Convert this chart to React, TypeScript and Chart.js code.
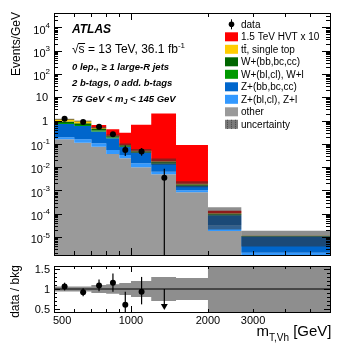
import React, { useEffect, useRef } from 'react';
import { Chart, registerables } from 'chart.js';
Chart.register(...registerables);

const FONT = '"Liberation Sans", Arial, Helvetica, sans-serif';

// ---- data (Events/GeV) ----
const binEdges = [500, 600, 700, 800, 900, 1000, 1200, 1500, 2000, 2700, 6000];
const otherBkg = [0.156, 0.112, 0.075, 0.037, 0.024, 0.0098, 0.005, 8.3e-4, 1.8e-5, 1e-7];
const zLight = [0.034, 0.044, 0.03, 0.017, 0.009, 0.0048, 0.0013, 2.0e-4, 1.4e-5, 2e-6];
const zHeavy = [0.52, 0.42, 0.23, 0.12, 0.04, 0.028, 0.008, 5.7e-4, 5.4e-5, 8.5e-6];
const wLight = [0.08, 0.07, 0.04, 0.015, 0.006, 0.003, 0.0012, 1.0e-4, 6e-6, 3e-7];
const wHeavy = [0.12, 0.12, 0.06, 0.02, 0.007, 0.003, 0.0015, 1.2e-4, 8e-6, 3e-7];
const topBkg = [0.22, 0.17, 0.06, 0.015, 0.004, 0.002, 0.001, 1.0e-4, 5e-6, 1e-7];
const hvtSignal = [0, 0, 0.145, 0.2, 0.21, 0.6, 1.98, 0.087, 3e-5, 0];
const bkgRelUnc = [0.06, 0.06, 0.1, 0.12, 0.15, 0.2, 0.3, 0.28, 0.8, 0.65];

const dataX = [550, 650, 750, 850, 950, 1100, 1350];
const dataY = [1.2, 0.86, 0.54, 0.26, 0.054, 0.047, 0.0035];
const dataErrUp = [0.11, 0.093, 0.073, 0.051, 0.03, 0.019, 0.005];
const dataErrDown = [0.11, 0.093, 0.073, 0.051, 0.024, 0.016, 0.0035];

const xTickValues = [600, 700, 800, 900, 1000, 2000, 3000, 4000, 5000];
const xTickLabels = ['500', '1000', '2000', '3000'];
const yDecades = [-5, -4, -3, -2, -1, 0, 1, 2, 3, 4];
const ratioTickLabels = ['0.5', '1', '1.5'];

const legendLabels = ['data', '1.5 TeV HVT x 10', 'tt, single top', 'W+(bb,bc,cc)', 'W+(bl,cl), W+l', 'Z+(bb,bc,cc)', 'Z+(bl,cl), Z+l', 'other', 'uncertainty'];

const COLORS = {
  other: '#9a9a9a', zl: '#3399ff', zh: '#0066cc', wl: '#009900', wh: '#006600', top: '#ffcc00', sig: '#ff0000',
};
const UNC_COLOR = 'rgba(50,50,50,0.55)';

const X_MIN = 500, X_MAX = 6000;
const Y_MIN = 1.7e-6, Y_MAX = 4.1e4;
const R_MIN = 0.42, R_MAX = 1.58;

function stepPoints(vals: number[]) {
  const pts = vals.map((v, i) => ({ x: binEdges[i], y: v }));
  pts.push({ x: binEdges[binEdges.length - 1], y: vals[vals.length - 1] });
  return pts;
}

function cumulative() {
  const comps = [otherBkg, zLight, zHeavy, wLight, wHeavy, topBkg, hvtSignal];
  const cum: number[][] = [];
  let run = new Array(binEdges.length - 1).fill(0);
  comps.forEach((c) => {
    run = run.map((r, i) => r + c[i]);
    cum.push(run.slice());
  });
  return cum;
}

function binOf(x: number) {
  for (let i = 0; i < binEdges.length - 1; i++) if (x >= binEdges[i] && x < binEdges[i + 1]) return i;
  return -1;
}

function drawParts(ctx: CanvasRenderingContext2D, x: number, y: number, parts: { t: string; font: string; dy?: number }[]) {
  let cx = x;
  const pos: number[] = [];
  for (const p of parts) {
    ctx.font = p.font;
    pos.push(cx);
    ctx.fillText(p.t, cx, y + (p.dy || 0));
    cx += ctx.measureText(p.t).width;
  }
  pos.push(cx);
  return pos;
}

function drawXTicks(ctx: CanvasRenderingContext2D, x: any, T: number, B: number, maj: number, min: number) {
  for (const v of xTickValues) {
    const px = Math.round(x.getPixelForValue(v)) + 0.5;
    const len = v === 1000 ? maj : min;
    ctx.moveTo(px, B); ctx.lineTo(px, B - len);
    ctx.moveTo(px, T); ctx.lineTo(px, T + len);
  }
}

const mainDecor = {
  id: 'mainDecor',
  afterDraw(chart: any) {
    const { ctx, chartArea: a } = chart;
    const x = chart.scales.x, y = chart.scales.y;
    const L = Math.round(a.left), R = Math.round(a.right), T = Math.round(a.top), B = Math.round(a.bottom);
    ctx.save();
    ctx.strokeStyle = '#000';
    ctx.lineWidth = 1;
    ctx.beginPath();
    for (let d = -7; d <= 5; d++) {
      for (let m = 1; m <= 9; m++) {
        const v = m * Math.pow(10, d);
        if (v < Y_MIN || v > Y_MAX) continue;
        const py = Math.round(y.getPixelForValue(v)) + 0.5;
        const len = m === 1 ? 8 : 4;
        ctx.moveTo(L, py); ctx.lineTo(L + len, py);
        ctx.moveTo(R, py); ctx.lineTo(R - len, py);
      }
    }
    drawXTicks(ctx, x, T, B, 7, 4);
    ctx.stroke();
    ctx.strokeRect(L + 0.5, T + 0.5, R - L, B - T);

    ctx.fillStyle = '#000';
    ctx.textBaseline = 'alphabetic';
    // y tick labels
    const f11 = `11px ${FONT}`, f8 = `8px ${FONT}`;
    for (const d of yDecades) {
      const py = y.getPixelForValue(Math.pow(10, d));
      ctx.textAlign = 'right';
      if (d === 0 || d === 1) {
        ctx.font = f11;
        ctx.fillText(d === 0 ? '1' : '10', L - 6, py + 4);
      } else {
        const e = String(d);
        ctx.font = f8;
        const ew = ctx.measureText(e).width;
        ctx.fillText(e, L - 4, py + 0.5);
        ctx.font = f11;
        ctx.fillText('10', L - 4 - ew, py + 6.3);
      }
    }
    // y title
    ctx.save();
    ctx.translate(20, 12);
    ctx.rotate(-Math.PI / 2);
    ctx.font = `12px ${FONT}`;
    ctx.textAlign = 'right';
    ctx.fillText('Events/GeV', 0, 0);
    ctx.restore();

    // ATLAS labels
    ctx.textAlign = 'left';
    ctx.font = `italic bold 12px ${FONT}`;
    ctx.fillText('ATLAS', 72, 33.3);
    const f12 = `12px ${FONT}`;
    const pos = drawParts(ctx, 72, 53.3, [
      { t: '√', font: f12 },
      { t: 's', font: f12 },
      { t: ' = 13 TeV, 36.1 fb', font: f12 },
      { t: '-1', font: `8px ${FONT}`, dy: -5.5 },
    ]);
    ctx.beginPath();
    ctx.moveTo(pos[1] - 0.5, 43.5);
    ctx.lineTo(pos[2] + 0.5, 43.5);
    ctx.stroke();
    const fbi = `italic bold 9.5px ${FONT}`;
    ctx.font = fbi;
    ctx.fillText('0 lep., ≥ 1 large-R jets', 72, 70);
    ctx.fillText('2 b-tags, 0 add. b-tags', 72, 85.5);
    drawParts(ctx, 72, 101.5, [
      { t: '75 GeV < m', font: fbi },
      { t: 'J', font: `italic bold 7px ${FONT}`, dy: 2.5 },
      { t: ' < 145 GeV', font: fbi },
    ]);

    // legend
    const swatches = [null, COLORS.sig, COLORS.top, COLORS.wh, COLORS.wl, COLORS.zh, COLORS.zl, COLORS.other, 'unc'];
    legendLabels.forEach((lab, i) => {
      const cy = 24.3 + 12.5 * i;
      const sw = swatches[i];
      if (sw === null) {
        ctx.beginPath();
        ctx.moveTo(231.5, cy - 5); ctx.lineTo(231.5, cy + 5);
        ctx.stroke();
        ctx.beginPath();
        ctx.arc(231.5, cy, 2.8, 0, Math.PI * 2);
        ctx.fill();
      } else if (sw === 'unc') {
        ctx.fillStyle = '#7a7a7a';
        ctx.fillRect(225, cy - 4.5, 13, 9);
        ctx.strokeStyle = '#444';
        ctx.setLineDash([1, 1]);
        ctx.beginPath();
        for (const xx of [227.5, 231.5, 235.5]) { ctx.moveTo(xx, cy - 4.5); ctx.lineTo(xx, cy + 4.5); }
        ctx.stroke();
        ctx.setLineDash([]);
        ctx.strokeStyle = '#000';
        ctx.fillStyle = '#000';
      } else {
        ctx.fillStyle = sw;
        ctx.fillRect(225, cy - 4.5, 13, 9);
        ctx.fillStyle = '#000';
      }
      ctx.font = `10px ${FONT}`;
      ctx.textAlign = 'left';
      ctx.fillText(lab, 241, cy + 3.6);
      if (i === 2) {
        const w1 = ctx.measureText('t').width;
        const w2 = ctx.measureText('tt').width;
        ctx.beginPath();
        ctx.lineWidth = 0.8;
        ctx.moveTo(241 + w1 + 0.3, cy - 4.8);
        ctx.lineTo(241 + w2 - 0.3, cy - 4.8);
        ctx.stroke();
        ctx.lineWidth = 1;
      }
    });
    ctx.restore();
  },
};

const ratioDecor = {
  id: 'ratioDecor',
  afterDraw(chart: any) {
    const { ctx, chartArea: a } = chart;
    const x = chart.scales.x, y = chart.scales.y;
    const L = Math.round(a.left), R = Math.round(a.right), T = Math.round(a.top), B = Math.round(a.bottom);
    ctx.save();
    ctx.strokeStyle = '#000';
    ctx.lineWidth = 1;
    ctx.beginPath();
    for (let k = 5; k <= 15; k++) {
      const v = k / 10;
      if (v < R_MIN || v > R_MAX) continue;
      const py = Math.round(y.getPixelForValue(v)) + 0.5;
      const len = k % 5 === 0 ? 6 : 3;
      ctx.moveTo(L, py); ctx.lineTo(L + len, py);
      ctx.moveTo(R, py); ctx.lineTo(R - len, py);
    }
    drawXTicks(ctx, x, T, B, 6, 3);
    ctx.stroke();
    ctx.strokeRect(L + 0.5, T + 0.5, R - L, B - T);

    ctx.fillStyle = '#000';
    ctx.font = `11px ${FONT}`;
    ctx.textAlign = 'right';
    for (const s of ratioTickLabels) {
      const py = y.getPixelForValue(parseFloat(s));
      ctx.fillText(s, L - 4, py + 4);
    }
    // x labels
    for (const s of xTickLabels) {
      const v = parseFloat(s);
      const px = x.getPixelForValue(v);
      if (v === X_MIN) {
        ctx.textAlign = 'left';
        ctx.fillText(s, px - 1, 65.5);
      } else {
        ctx.textAlign = 'center';
        ctx.fillText(s, px, 65.5);
      }
    }
    // x title
    ctx.font = `15px ${FONT}`;
    const t1 = '[GeV]';
    const wT1 = ctx.measureText(' ' + t1).width;
    ctx.font = `10px ${FONT}`;
    const wSub = ctx.measureText('T,Vh').width;
    ctx.font = `15px ${FONT}`;
    const wm = ctx.measureText('m').width;
    const xEnd = 331.5;
    const x0 = xEnd - wT1 - wSub - wm;
    ctx.textAlign = 'left';
    drawParts(ctx, x0, 78, [
      { t: 'm', font: `15px ${FONT}` },
      { t: 'T,Vh', font: `10px ${FONT}`, dy: 4.5 },
      { t: ' ' + t1, font: `15px ${FONT}` },
    ]);
    // y title
    ctx.save();
    ctx.translate(19, 33.5);
    ctx.rotate(-Math.PI / 2);
    ctx.font = `12px ${FONT}`;
    ctx.textAlign = 'center';
    ctx.fillText('data / bkg', 0, 0);
    ctx.restore();
    ctx.restore();
  },
};

function lineDs(extra: any) {
  return { pointRadius: 0, borderWidth: 0, fill: false, tension: 0, ...extra };
}

function mainConfig(): any {
  const cum = cumulative();
  const bkg = cum[5];
  const datasets: any[] = [];
  dataX.forEach((xv, k) => {
    datasets.push(lineDs({
      data: [{ x: xv, y: Math.max(dataY[k] - dataErrDown[k], 1e-12) }, { x: xv, y: dataY[k] + dataErrUp[k] }],
      borderColor: '#000', borderWidth: 1.2,
    }));
  });
  datasets.push({
    data: dataX.map((xv, k) => ({ x: xv, y: dataY[k] })),
    showLine: false, pointRadius: 3, pointBackgroundColor: '#000', pointBorderColor: '#000', pointBorderWidth: 0, fill: false,
  });
  const upIdx = datasets.length;
  datasets.push(lineDs({ data: stepPoints(bkg.map((b, i) => b * (1 + bkgRelUnc[i]))), stepped: true }));
  datasets.push(lineDs({
    data: stepPoints(bkg.map((b, i) => Math.max(b * (1 - bkgRelUnc[i]), 1e-12))), stepped: true,
    fill: upIdx, backgroundColor: UNC_COLOR,
  }));
  const colors = [COLORS.other, COLORS.zl, COLORS.zh, COLORS.wl, COLORS.wh, COLORS.top, COLORS.sig];
  for (let j = cum.length - 1; j >= 0; j--) {
    const idx = datasets.length;
    datasets.push(lineDs({
      data: stepPoints(cum[j]), stepped: true, backgroundColor: colors[j],
      fill: j === 0 ? 'start' : idx + 1,
    }));
  }
  return {
    type: 'line',
    data: { datasets },
    options: {
      animation: false, responsive: false, devicePixelRatio: 1, events: [],
      layout: { padding: { left: 54, top: 13, right: 27, bottom: 5 } },
      plugins: { legend: { display: false }, tooltip: { enabled: false } },
      scales: {
        x: { type: 'logarithmic', min: X_MIN, max: X_MAX, display: false },
        y: { type: 'logarithmic', min: Y_MIN, max: Y_MAX, display: false },
      },
    },
    plugins: [mainDecor],
  };
}

function ratioConfig(): any {
  const cum = cumulative();
  const bkg = cum[5];
  const datasets: any[] = [];
  const pts: { x: number; y: number }[] = [];
  dataX.forEach((xv, k) => {
    const b = bkg[binOf(xv)];
    const r = dataY[k] / b;
    if (r >= R_MIN) {
      datasets.push(lineDs({
        data: [{ x: xv, y: r - dataErrDown[k] / b }, { x: xv, y: r + dataErrUp[k] / b }],
        borderColor: '#000', borderWidth: 1.2,
      }));
      pts.push({ x: xv, y: r });
    } else {
      datasets.push(lineDs({
        data: [{ x: xv, y: 1.0 }, { x: xv, y: R_MIN + 0.16 }],
        borderColor: '#000', borderWidth: 1.2,
      }));
      datasets.push({
        data: [{ x: xv, y: R_MIN + 0.15 }], showLine: false, pointStyle: 'triangle', rotation: 180,
        pointRadius: 4, pointBackgroundColor: '#000', pointBorderColor: '#000', pointBorderWidth: 0,
      });
    }
  });
  datasets.push({
    data: pts, showLine: false, pointRadius: 3, pointBackgroundColor: '#000', pointBorderColor: '#000', pointBorderWidth: 0, fill: false,
  });
  datasets.push(lineDs({ data: [{ x: X_MIN, y: 1 }, { x: X_MAX, y: 1 }], borderColor: '#000', borderWidth: 1 }));
  const upIdx = datasets.length;
  datasets.push(lineDs({ data: stepPoints(bkgRelUnc.map((u) => 1 + u)), stepped: true }));
  datasets.push(lineDs({ data: stepPoints(bkgRelUnc.map((u) => 1 - u)), stepped: true, fill: upIdx, backgroundColor: UNC_COLOR }));
  return {
    type: 'line',
    data: { datasets },
    options: {
      animation: false, responsive: false, devicePixelRatio: 1, events: [],
      layout: { padding: { left: 54, top: 8, right: 27, bottom: 36 } },
      plugins: { legend: { display: false }, tooltip: { enabled: false } },
      scales: {
        x: { type: 'logarithmic', min: X_MIN, max: X_MAX, display: false },
        y: { type: 'linear', min: R_MIN, max: R_MAX, display: false },
      },
    },
    plugins: [ratioDecor],
  };
}

export default function App() {
  const mainRef = useRef<HTMLCanvasElement>(null);
  const ratioRef = useRef<HTMLCanvasElement>(null);
  useEffect(() => {
    const c1 = new Chart(mainRef.current as HTMLCanvasElement, mainConfig());
    const c2 = new Chart(ratioRef.current as HTMLCanvasElement, ratioConfig());
    return () => {
      c1.destroy();
      c2.destroy();
    };
  }, []);
  return (
    <div style={{ position: 'absolute', left: 0, top: 0, width: 357, height: 348, background: '#fff' }}>
      <canvas ref={mainRef} width={357} height={260} style={{ position: 'absolute', left: 0, top: 0, width: 357, height: 260 }} />
      <canvas ref={ratioRef} width={357} height={90} style={{ position: 'absolute', left: 0, top: 258, width: 357, height: 90 }} />
    </div>
  );
}
